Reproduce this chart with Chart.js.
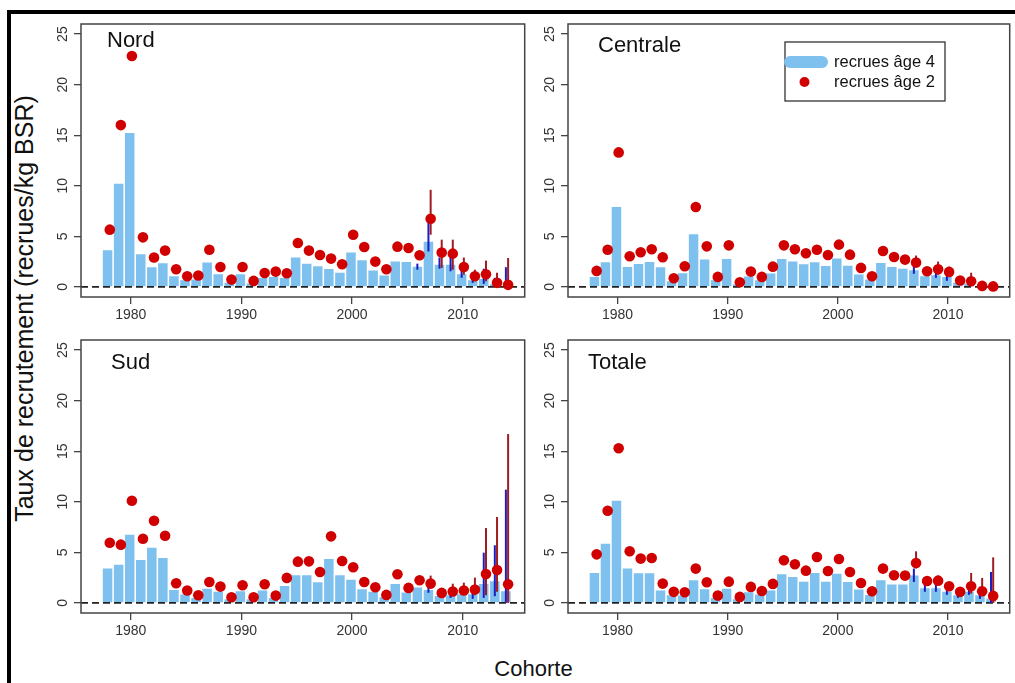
<!DOCTYPE html>
<html lang="fr">
<head>
<meta charset="utf-8">
<title>Taux de recrutement par cohorte</title>
<script src="https://cdn.jsdelivr.net/npm/chart.js@4.4.0/dist/chart.umd.min.js"></script>
<style>
  body { margin: 0; background: #fff; width: 1015px; height: 683px; overflow: hidden; position: relative;
         font-family: "Liberation Sans", Arial, sans-serif; color: #111; }
  .cadre { position: absolute; left: 7px; top: 10px; right: -20px; bottom: -20px;
           border-left: 4px solid #000; border-top: 4px solid #000; }
  canvas { position: absolute; }
  .titre { position: absolute; font-size: 22px; line-height: 22px; white-space: nowrap; }
  #ytitre { position: absolute; left: -225.7px; top: 296px; width: 500px; height: 25px; text-align: center;
            font-size: 25px; line-height: 25px; transform: rotate(-90deg); white-space: nowrap; }
  #xtitre { position: absolute; left: 383.5px; top: 658.4px; width: 300px; text-align: center;
            font-size: 22px; line-height: 22px; }
</style>
</head>
<body>
<div class="cadre"></div>
<div id="ytitre">Taux de recrutement (recrues/kg BSR)</div>
<div id="xtitre">Cohorte</div>

<script>
const cohortes = [1978, 1979, 1980, 1981, 1982, 1983, 1984, 1985, 1986, 1987, 1988, 1989, 1990,
                  1991, 1992, 1993, 1994, 1995, 1996, 1997, 1998, 1999, 2000, 2001, 2002, 2003,
                  2004, 2005, 2006, 2007, 2008, 2009, 2010, 2011, 2012, 2013, 2014];

const nordAge4 = [3.62, 10.2, 15.23, 3.22, 1.94, 2.34, 1.05, 0.66, 0.72, 2.4, 1.25, 0.4, 1.25,
                  0.33, 0.89, 0.99, 0.89, 2.9, 2.3, 2.04, 1.78, 1.41, 3.39, 2.63, 1.61, 1.12,
                  2.5, 2.47, 2.0, 4.47, 2.2, 2.2, 1.25, 0.66, 0.79, 0.26, 0.07];
const nordAge2 = [5.66, 16.0, 22.83, 4.9, 2.9, 3.59, 1.74, 1.05, 1.12, 3.68, 1.97, 0.72, 1.97,
                  0.59, 1.38, 1.51, 1.35, 4.34, 3.59, 3.16, 2.8, 2.24, 5.16, 3.95, 2.5, 1.74,
                  3.98, 3.85, 3.13, 6.74, 3.39, 3.29, 1.97, 1.05, 1.25, 0.4, 0.2];

const centraleAge4 = [0.99, 2.43, 7.9, 1.97, 2.27, 2.47, 1.94, 0.56, 1.35, 5.2, 2.7, 0.66, 2.76,
                      0.26, 1.02, 0.66, 1.32, 2.76, 2.5, 2.24, 2.43, 2.07, 2.8, 2.1, 1.22, 0.72,
                      2.37, 1.97, 1.8, 1.64, 1.05, 1.15, 0.99, 0.4, 0.33, 0.07, 0.02];
const centraleAge2 = [1.58, 3.68, 13.3, 3.03, 3.42, 3.72, 2.93, 0.86, 2.04, 7.9, 4.01, 0.99, 4.11,
                      0.46, 1.51, 0.99, 2.0, 4.11, 3.72, 3.32, 3.68, 3.16, 4.18, 3.19, 1.88, 1.05,
                      3.55, 2.96, 2.7, 2.4, 1.55, 1.74, 1.48, 0.63, 0.56, 0.1, 0.05];

const sudAge4 = [3.39, 3.78, 6.74, 4.24, 5.46, 4.44, 1.28, 0.82, 0.49, 1.41, 1.09, 0.36, 1.15,
                 0.36, 1.22, 0.49, 1.68, 2.73, 2.73, 2.04, 4.34, 2.73, 2.3, 1.35, 1.09, 0.56,
                 1.88, 1.02, 1.51, 1.28, 0.69, 0.76, 0.86, 0.86, 1.88, 2.14, 1.15];
const sudAge2 = [5.95, 5.76, 10.1, 6.35, 8.12, 6.64, 1.94, 1.22, 0.76, 2.07, 1.61, 0.56, 1.74,
                 0.56, 1.84, 0.72, 2.47, 4.08, 4.11, 3.06, 6.58, 4.14, 3.52, 2.07, 1.55, 0.79,
                 2.83, 1.48, 2.24, 1.91, 0.99, 1.12, 1.22, 1.32, 2.86, 3.26, 1.84];

const totaleAge4 = [2.96, 5.86, 10.1, 3.39, 2.93, 2.93, 1.22, 0.76, 0.72, 2.24, 1.35, 0.49, 1.41,
                    0.36, 1.05, 0.82, 1.22, 2.83, 2.57, 2.1, 2.96, 2.1, 2.89, 2.07, 1.32, 0.79,
                    2.24, 1.81, 1.81, 2.7, 1.45, 1.45, 1.09, 0.76, 1.09, 0.76, 0.43];
const totaleAge2 = [4.8, 9.11, 15.3, 5.1, 4.38, 4.44, 1.91, 1.09, 1.05, 3.39, 2.04, 0.72, 2.1,
                    0.59, 1.58, 1.18, 1.88, 4.21, 3.82, 3.19, 4.54, 3.16, 4.34, 3.06, 1.97, 1.15,
                    3.39, 2.73, 2.7, 3.95, 2.17, 2.2, 1.64, 1.09, 1.64, 1.15, 0.69];

// intervalles [bas, haut] des cohortes récentes (null = pas d'intervalle)
const icCohortes = [2006, 2007, 2008, 2009, 2010, 2011, 2012, 2013, 2014];
const nordAge4IC = [[1.7, 2.3], [3.5, 6.5], [1.8, 2.9], [1.55, 3.0], [0.9, 1.9], [0.4, 1.4], [0.3, 1.8], [0.07, 0.9], [0, 1.95]];
const nordAge2IC = [null, [5.16, 9.6], [1.88, 4.67], [1.7, 4.67], [1.2, 2.9], [0.7, 1.7], [0.55, 2.6], [0, 1.4], [0, 2.86]];
const centraleAge4IC = [null, [1.3, 2.1], null, [0.9, 1.6], [0.6, 1.3], null, null, null, null];
const centraleAge2IC = [null, [2.0, 3.1], null, [1.2, 2.5], [1.1, 2.0], [0.4, 1.0], [0.2, 1.4], null, null];
const sudAge4IC = [null, [1.0, 1.6], null, [0.5, 1.0], null, [0.4, 1.3], [0.5, 4.97], [0.66, 5.7], [0, 11.2]];
const sudAge2IC = [null, [1.6, 2.7], null, [0.8, 1.9], [0.8, 2.0], [0.76, 2.5], [0.76, 7.4], [1.1, 8.5], [0, 16.7]];
const totaleAge4IC = [null, [2.07, 3.4], [1.1, 1.8], [1.1, 1.9], [0.8, 1.3], [0.5, 0.9], [0.8, 1.5], [0.4, 1.6], [0, 3.06]];
const totaleAge2IC = [null, [3.4, 5.1], null, [1.8, 2.7], null, null, [0.92, 2.96], [0.76, 2.47], [0, 4.5]];

const xTicks = [1980, 1990, 2000, 2010];
const yTicks = [0, 5, 10, 15, 20, 25];

const police = '"Liberation Sans", Arial, sans-serif';
const bleuBarre = '#7EC0EE';
const rougePoint = '#D00000';

// box = cadre du graphique [gauche, haut, droite, bas] dans la page
const panneaux = [
  { nom: 'Nord', age4: nordAge4, age2: nordAge2, ic4: nordAge4IC, ic2: nordAge2IC, box: [81, 24, 526, 297], titre: [107, 29.4] },
  { nom: 'Centrale', age4: centraleAge4, age2: centraleAge2, ic4: centraleAge4IC, ic2: centraleAge2IC, box: [568, 24, 1011, 297], titre: [598, 34], legende: true },
  { nom: 'Sud', age4: sudAge4, age2: sudAge2, ic4: sudAge4IC, ic2: sudAge2IC, box: [81, 340, 526, 613], titre: [111, 351.4] },
  { nom: 'Totale', age4: totaleAge4, age2: totaleAge2, ic4: totaleAge4IC, ic2: totaleAge2IC, box: [568, 340, 1011, 613], titre: [588, 351.4] }
];

const AXE_Y = 50, AXE_X = 35, MARGE_HAUT = 14, MARGE_DROITE = 4;

// ligne pointillée à zéro, intervalles, puis cadre
const habillage = {
  id: 'habillage',
  beforeDatasetDraw(chart, args) {
    if (args.index !== 1) return;
    const { ctx, chartArea, scales: { x, y } } = chart;
    ctx.save();
    const y0 = y.getPixelForValue(0);
    ctx.strokeStyle = '#222';
    ctx.lineWidth = 1.6;
    ctx.setLineDash([7, 4]);
    ctx.beginPath();
    ctx.moveTo(chartArea.left, y0);
    ctx.lineTo(chartArea.right, y0);
    ctx.stroke();
    ctx.setLineDash([]);
    ctx.lineWidth = 2;
    chart.data.datasets.forEach(ds => {
      ctx.strokeStyle = ds.couleurIC;
      icCohortes.forEach((an, j) => {
        const ic = ds.ic[j];
        if (!ic) return;
        const px = x.getPixelForValue(an + ds.decalage);
        ctx.beginPath();
        ctx.moveTo(px, y.getPixelForValue(ic[0]));
        ctx.lineTo(px, y.getPixelForValue(ic[1]));
        ctx.stroke();
      });
    });
    ctx.restore();
  },
  afterDraw(chart) {
    const { ctx, chartArea: a } = chart;
    ctx.save();
    ctx.strokeStyle = '#444';
    ctx.lineWidth = 1.5;
    ctx.strokeRect(a.left, a.top, a.right - a.left, a.bottom - a.top);
    ctx.restore();
  }
};

const legendeEncart = {
  id: 'legendeEncart',
  afterDraw(chart) {
    const { ctx, chartArea } = chart;
    const [barres, points] = chart.data.datasets;
    const bx = chartArea.left + 217, by = chartArea.top + 18, bw = 160, bh = 59;
    ctx.save();
    ctx.fillStyle = '#fff';
    ctx.fillRect(bx, by, bw, bh);
    ctx.strokeStyle = '#333';
    ctx.lineWidth = 1.3;
    ctx.strokeRect(bx, by, bw, bh);
    ctx.lineCap = 'round';
    ctx.lineWidth = 12;
    ctx.strokeStyle = barres.backgroundColor;
    ctx.beginPath();
    ctx.moveTo(bx + 5, by + 20);
    ctx.lineTo(bx + 37, by + 20);
    ctx.stroke();
    ctx.fillStyle = points.backgroundColor;
    ctx.beginPath();
    ctx.arc(bx + 19.5, by + 40, 5, 0, 2 * Math.PI);
    ctx.fill();
    ctx.fillStyle = '#111';
    ctx.font = '16.5px ' + police;
    ctx.textBaseline = 'middle';
    ctx.fillText(barres.label, bx + 49, by + 20);
    ctx.fillText(points.label, bx + 49, by + 40);
    ctx.restore();
  }
};

panneaux.forEach(p => {
  const [l, t, r, b] = p.box;
  const canvas = document.createElement('canvas');
  canvas.width = r - l + AXE_Y + MARGE_DROITE;
  canvas.height = b - t + MARGE_HAUT + AXE_X;
  canvas.style.left = (l - AXE_Y) + 'px';
  canvas.style.top = (t - MARGE_HAUT) + 'px';
  document.body.appendChild(canvas);

  const titre = document.createElement('div');
  titre.className = 'titre';
  titre.textContent = p.nom;
  titre.style.left = p.titre[0] + 'px';
  titre.style.top = p.titre[1] + 'px';
  document.body.appendChild(titre);

  new Chart(canvas, {
    type: 'bar',
    data: {
      datasets: [{
        label: 'recrues âge 4',
        data: cohortes.map((an, i) => ({ x: an - 0.1, y: p.age4[i] })),
        backgroundColor: bleuBarre,
        borderWidth: 0,
        barPercentage: 0.86,
        categoryPercentage: 1,
        order: 2,
        decalage: -0.1,
        ic: p.ic4,
        couleurIC: '#1c1cc0'
      }, {
        type: 'scatter',
        label: 'recrues âge 2',
        data: cohortes.map((an, i) => ({ x: an + 0.1, y: p.age2[i] })),
        backgroundColor: rougePoint,
        borderWidth: 0,
        pointRadius: 5.3,
        order: 1,
        decalage: 0.1,
        ic: p.ic2,
        couleurIC: '#a01c22'
      }]
    },
    options: {
      responsive: false,
      animation: false,
      devicePixelRatio: 1,
      layout: { padding: { top: MARGE_HAUT, right: MARGE_DROITE, left: 0, bottom: 0 } },
      plugins: { legend: { display: false }, tooltip: { enabled: false } },
      scales: {
        x: {
          type: 'linear',
          offset: false,
          min: 1975.5,
          max: 2015.6,
          afterBuildTicks: s => { s.ticks = xTicks.map(v => ({ value: v })); },
          afterFit: s => { s.height = AXE_X; },
          grid: { offset: false, drawOnChartArea: false, tickLength: 7, color: '#444', lineWidth: 1.3 },
          border: { display: false },
          ticks: { color: '#333', padding: 3, font: { family: police, size: 14 }, callback: v => String(v), maxRotation: 0 }
        },
        y: {
          min: -1,
          max: 26,
          afterBuildTicks: s => { s.ticks = yTicks.map(v => ({ value: v })); },
          afterFit: s => { s.width = AXE_Y; },
          grid: { drawOnChartArea: false, tickLength: 7, color: '#444', lineWidth: 1.3 },
          border: { display: false },
          ticks: { color: '#333', padding: 3, minRotation: 90, maxRotation: 90, crossAlign: 'center',
                   font: { family: police, size: 14 } }
        }
      }
    },
    plugins: p.legende ? [habillage, legendeEncart] : [habillage]
  });
});
</script>
</body>
</html>
